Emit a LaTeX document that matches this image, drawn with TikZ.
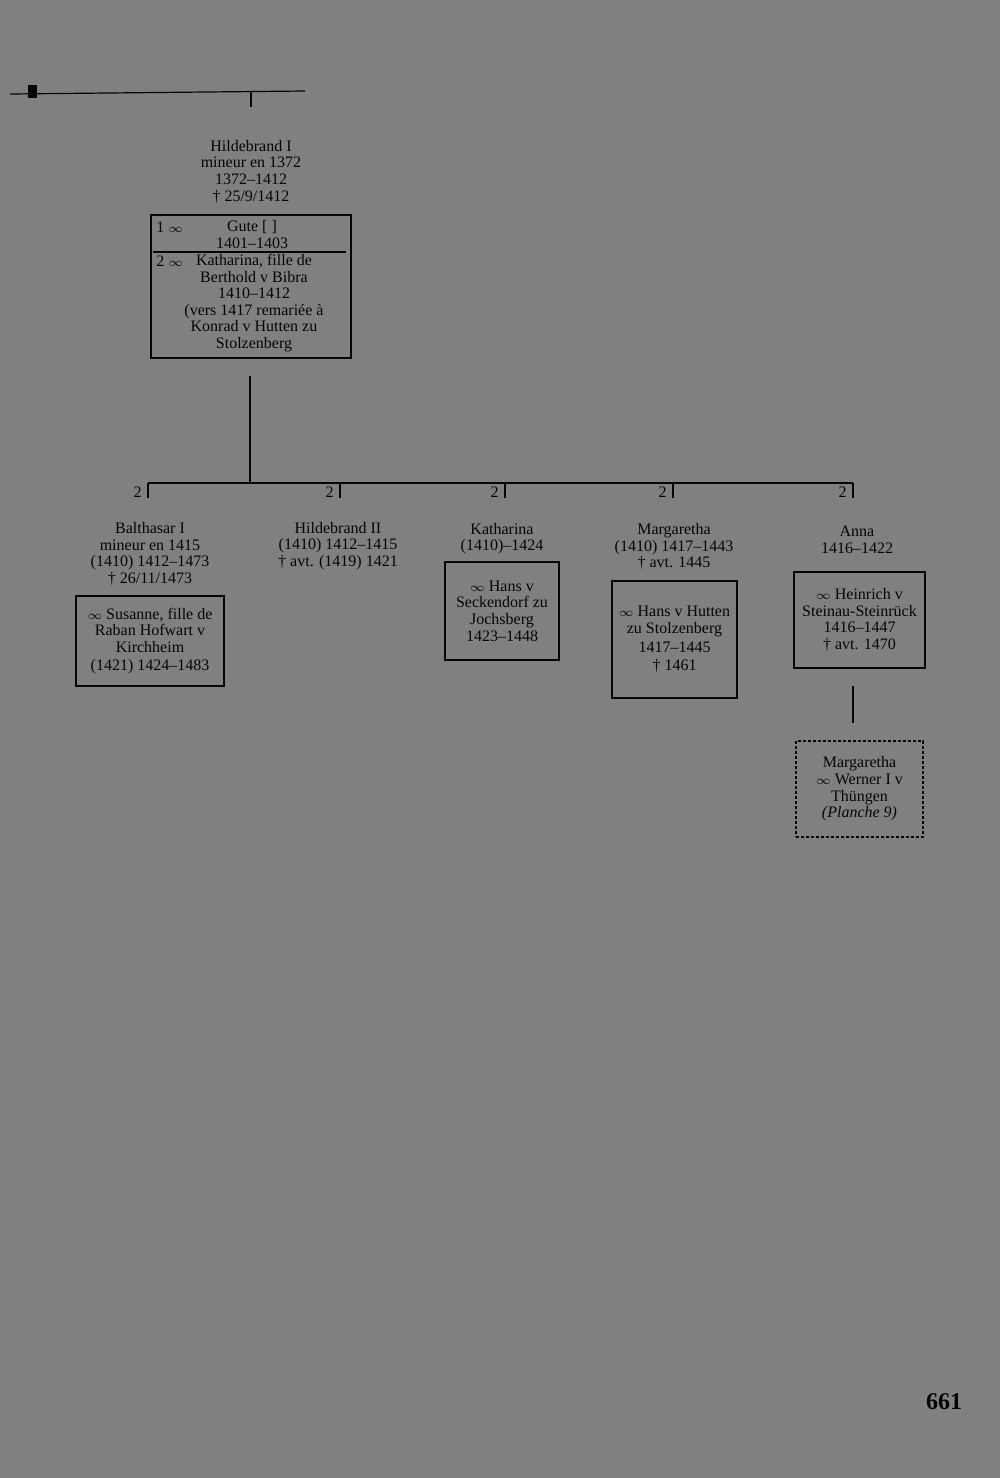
\documentclass[tikz,border=0pt]{standalone}
\usepackage{fontspec}
\setmainfont{Liberation Serif}
\usetikzlibrary{positioning}
\definecolor{pagegrey}{gray}{0.5}
\definecolor{ink}{gray}{0.02}
\newcommand\infsym{{\fontsize{6.5}{7}\selectfont$\infty$}}

\begin{document}
\begin{tikzpicture}[x=0.5pt,y=-0.5pt,
  pers/.style={align=center,inner sep=0pt,text=ink,font=\fontsize{8}{8.3}\selectfont},
  mar/.style={pers,draw=ink,line width=0.6pt},
  xref/.style={mar,dashed,dash pattern=on 1.5pt off 1pt},
  lin/.style={draw=ink,line width=0.6pt}]
  \useasboundingbox[fill=pagegrey] (0,0) rectangle (1000,1478);

  % line from the previous generation
  \coordinate (tl) at (10,94);
  \coordinate (tr) at (305,91);
  \coordinate (tk) at (251,107);
  \draw[lin] (tl) -- (tr);
  \fill[ink] (28,85) rectangle (37,98);
  \draw[lin] (tk |- tr) -- (tk);

  % Hildebrand I
  \node[pers] (hild) at (251,171.5) {Hildebrand I\\mineur en 1372\\1372–1412\\\dag{} 25/9/1412};
  \node[mar,minimum width=100pt,minimum height=71.5pt] (hbox) at (251,286.5) {};
  \coordinate (sep) at (251,252);
  \draw[lin] ([xshift=1.5pt]hbox.west |- sep) -- ([xshift=-3pt]hbox.east |- sep);
  \node[pers,anchor=west] (w1) at (156,227) {1 \infsym};
  \node[pers,anchor=west] (w2) at (156,261) {2 \infsym};
  \node[pers] (gute) at (252,234.5) {Gute [ ]\\1401–1403};
  \node[pers] (kath1) at (254,303) {Katharina, fille de\\Berthold v Bibra\\1410–1412\\(vers 1417 remariée à\\Konrad v Hutten zu\\Stolzenberg};

  % children
  \coordinate (bus) at (250,483);
  \draw[lin] ([yshift=-8.5pt]hbox.south -| bus) -- (bus);
  \foreach \x [count=\i] in {148,340,505,673,853}{
    \coordinate (c\i) at (\x,498);
    \draw[lin] (c\i |- bus) -- (c\i);
    \node[pers,anchor=east] (two\i) at (\x-6,492) {2};}
  \draw[lin] (c1 |- bus) -- (c5 |- bus);

  \node[pers] (balt) at (150,554) {Balthasar I\\mineur en 1415\\(1410) 1412–1473\\\dag{} 26/11/1473};
  \node[mar,minimum width=74pt,minimum height=45pt] (baltm) at (150,641)
    {\infsym{} Susanne, fille de\\Raban Hofwart v\\Kirchheim\\[1pt](1421) 1424–1483};

  \node[pers] (hild2) at (338,546) {Hildebrand II\\(1410) 1412–1415\\\dag{} avt. (1419) 1421};

  \node[pers] (kath) at (502,538.5) {Katharina\\(1410)–1424};
  \node[mar,minimum width=57pt,minimum height=49pt] (kathm) at (502,611)
    {\infsym{} Hans v\\Seckendorf zu\\Jochsberg\\1423–1448};

  \node[pers] (marg) at (674,546.5) {Margaretha\\(1410) 1417–1443\\\dag{} avt. 1445};
  \node[mar,minimum width=62.5pt,minimum height=58.5pt] (margm) at (674.5,639.5)
    {\infsym{} Hans v Hutten\\zu Stolzenberg\\[1pt]1417–1445\\[1pt]\dag{} 1461};

  \node[pers] (anna) at (857,539.5) {Anna\\1416–1422};
  \node[mar,minimum width=65.5pt,minimum height=48pt] (annam) at (859.5,620)
    {\infsym{} Heinrich v\\Steinau-Steinrück\\1416–1447\\\dag{} avt. 1470};

  \node[xref,minimum width=63.5pt,minimum height=48pt] (thue) at (859.5,789)
    {Margaretha\\\infsym{} Werner I v\\Thüngen\\\textit{(Planche 9)}};
  \draw[lin] ([xshift=-3.25pt,yshift=-8.5pt]annam.south) -- ([xshift=-3.25pt,yshift=8.5pt]thue.north);

  \node[text=ink,font=\fontsize{12}{14}\selectfont\bfseries] (pagenum) at (944,1402) {661};
\end{tikzpicture}
\end{document}
